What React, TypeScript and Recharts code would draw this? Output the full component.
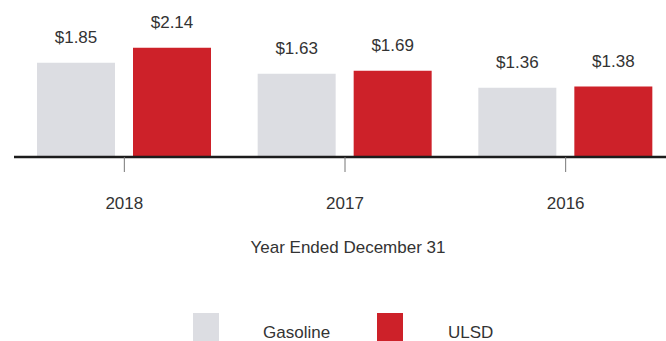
import { BarChart, Bar, XAxis, YAxis, LabelList } from "recharts";

const years = ["2018", "2017", "2016"];
const gasoline = [1.85, 1.63, 1.36];
const ulsd = [2.14, 1.69, 1.38];
const seriesNames = ["Gasoline", "ULSD"];

const GAS_COLOR = "#dcdde2";
const ULSD_COLOR = "#cd2129";
const FONT = "'Liberation Sans', Arial, sans-serif";

const data = years.map((year, i) => ({ year, gasoline: gasoline[i], ulsd: ulsd[i] }));

const money = (v: number) => `$${v.toFixed(2)}`;

export default function App() {
  return (
    <div
      style={{
        position: "fixed",
        left: 0,
        top: 0,
        width: 666,
        height: 341,
        overflow: "hidden",
        background: "#fff",
        fontFamily: FONT,
      }}
    >
      <BarChart
        width={676}
        height={341}
        data={data}
        margin={{ top: 4, right: 0, left: 14, bottom: 0 }}
        barSize={78}
        barGap={18}
      >
        <YAxis hide domain={[0, 3]} />
        <XAxis
          dataKey="year"
          height={184}
          axisLine={{ stroke: "#1c1c1c", strokeWidth: 2.5 }}
          tickLine={{ stroke: "#777", strokeWidth: 1 }}
          tickSize={15}
          tickMargin={25}
          tick={{ fill: "#333", fontSize: 17, fontFamily: FONT }}
          label={{
            value: "Year Ended December 31",
            position: "insideTop",
            offset: 84,
            dx: 3,
            fill: "#333",
            fontSize: 17,
            fontFamily: FONT,
          }}
        />
        <Bar dataKey="gasoline" fill={GAS_COLOR} isAnimationActive={false}>
          <LabelList
            dataKey="gasoline"
            position="top"
            offset={20}
            formatter={money}
            fill="#333"
            fontSize={17}
            fontFamily={FONT}
          />
        </Bar>
        <Bar dataKey="ulsd" fill={ULSD_COLOR} isAnimationActive={false}>
          <LabelList
            dataKey="ulsd"
            position="top"
            offset={20}
            formatter={money}
            fill="#333"
            fontSize={17}
            fontFamily={FONT}
          />
        </Bar>
      </BarChart>
      <svg
        width={666}
        height={341}
        style={{ position: "absolute", left: 0, top: 0, pointerEvents: "none" }}
      >
        <rect x={193} y={313} width={26} height={30} fill={GAS_COLOR} />
        <text x={263} y={338} fontSize={17} fill="#333" fontFamily={FONT}>
          {seriesNames[0]}
        </text>
        <rect x={377} y={313} width={26} height={30} fill={ULSD_COLOR} />
        <text x={448} y={338} fontSize={17} fill="#333" fontFamily={FONT}>
          {seriesNames[1]}
        </text>
      </svg>
    </div>
  );
}
